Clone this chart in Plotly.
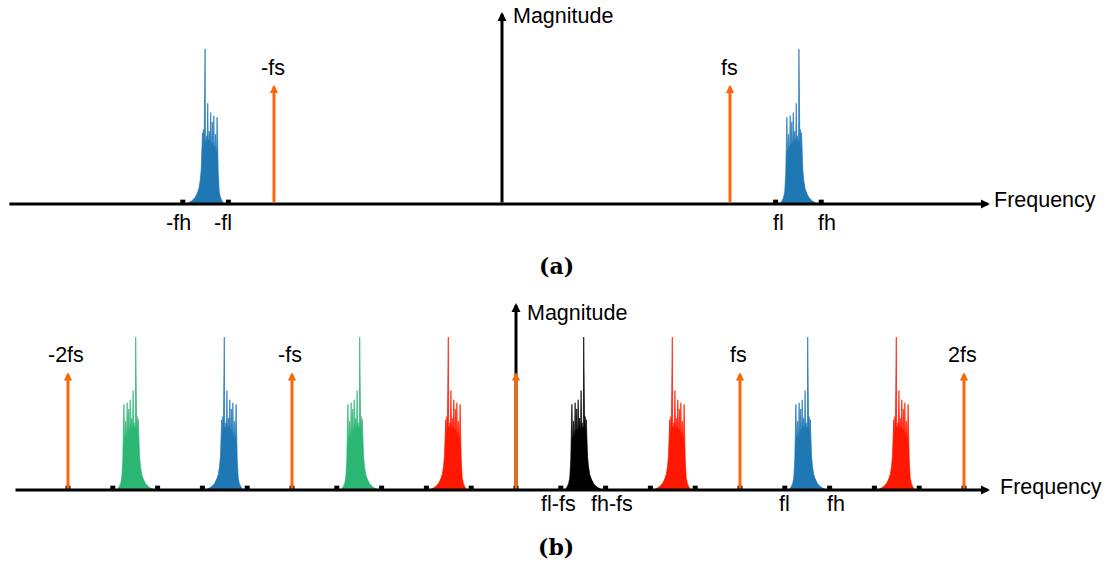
import plotly.graph_objects as go

# ---------------- data ----------------
FS = 1.0            # sampling frequency (normalised)
FL, FH = 1.2, 1.4   # band edges (in units of fs)
IMPULSE_H = 0.77    # height of the sampling impulses (band peak = 1)

# band-pass spectrum profile: fraction across [fl, fh] and relative magnitude
prof_t = [0.072, 0.122, 0.173, 0.201, 0.223, 0.237, 0.248, 0.259, 0.273, 0.284,
          0.295, 0.309, 0.320, 0.331, 0.345, 0.356, 0.367, 0.378, 0.388, 0.399,
          0.410, 0.421, 0.432, 0.442, 0.453, 0.464, 0.475, 0.489, 0.504, 0.511,
          0.522, 0.532, 0.543, 0.554, 0.568, 0.579, 0.597, 0.619, 0.647, 0.683,
          0.734, 0.806, 0.878, 0.921]
prof_h = [0, 0.01, 0.04, 0.08, 0.2, 0.33, 0.56, 0.36, 0.34, 0.45,
          0.36, 0.38, 0.57, 0.38, 0.40, 0.53, 0.39, 0.40, 0.59, 0.40,
          0.42, 0.47, 0.40, 0.42, 0.65, 0.42, 0.44, 0.40, 0.42, 1.0,
          0.42, 0.40, 0.48, 0.36, 0.46, 0.30, 0.22, 0.15, 0.10, 0.07,
          0.04, 0.02, 0.01, 0]

# panel (a)
a_band_shift = [0, 0]
a_band_side = [-1, 1]
a_impulses = [-1, 1]
a_imp_labels = ["-fs", "fs"]
a_ticks = [-FH, -FL, FL, FH]
a_tick_labels = ["-fh", "-fl", "fl", "fh"]

# panel (b)
b_band_shift = [-3, 0, -2, 1, -1, 2, 0, 3]
b_band_side = [1, -1, 1, -1, 1, -1, 1, -1]
b_band_color = ["green", "blue", "green", "red", "black", "red", "blue", "red"]
b_impulses = [-2, -1, 0, 1, 2]
b_imp_labels = ["-2fs", "-fs", "", "fs", "2fs"]
b_ticks = [-2, -1.8, -1.6, -1.4, -1.2, -1, -0.8, -0.6, -0.4, -0.2, 0,
           0.2, 0.4, 0.6, 0.8, 1, 1.2, 1.4, 1.6, 1.8, 2]
b_label_pos = [FL - FS, FH - FS, FL, FH]
b_labels = ["fl-fs", "fh-fs", "fl", "fh"]

# ---------------- style ----------------
W, H = 1108, 563
COL = {"blue": "#1f77b4", "green": "#2cb673", "red": "#ff1800",
       "black": "#000000"}
ORANGE = "#ff6608"
FONT = "Liberation Sans, Arial, sans-serif"
FSZ = 21.5

# pixel geometry of the two panels (origin px, px per unit)
A_X0, A_XS, A_Y0, A_YS = 502, 228, 204, 155
B_X0, B_XS, B_Y0, B_YS = 516, 224, 490, 153
A_XLIM = (-2.167, 2.140)
A_YTOP = 1.239
B_XLIM = (-2.241, 2.116)
B_YTOP = 1.222


def band(shift, side):
    xs = [shift * FS + side * (FL + t * (FH - FL)) for t in prof_t]
    return xs, list(prof_h)


fig = go.Figure()

# panel (a) bands
for s, sd in zip(a_band_shift, a_band_side):
    xs, ys = band(s, sd)
    fig.add_trace(go.Scatter(x=xs, y=ys, mode="lines", fill="tozeroy",
                             line=dict(color=COL["blue"], width=0.7),
                             fillcolor=COL["blue"], xaxis="x", yaxis="y",
                             hoverinfo="skip", showlegend=False))
fig.add_trace(go.Scatter(x=a_ticks, y=[0.012] * len(a_ticks), mode="markers",
                         marker=dict(symbol="square", size=5, color="black"),
                         xaxis="x", yaxis="y", hoverinfo="skip",
                         showlegend=False))

# panel (b) bands
for s, sd, c in zip(b_band_shift, b_band_side, b_band_color):
    xs, ys = band(s, sd)
    fig.add_trace(go.Scatter(x=xs, y=ys, mode="lines", fill="tozeroy",
                             line=dict(color=COL[c], width=0.7),
                             fillcolor=COL[c], xaxis="x2", yaxis="y2",
                             hoverinfo="skip", showlegend=False))
fig.add_trace(go.Scatter(x=b_ticks, y=[0.012] * len(b_ticks), mode="markers",
                         marker=dict(symbol="square", size=5, color="black"),
                         xaxis="x2", yaxis="y2", hoverinfo="skip",
                         showlegend=False))

ann = []


def arrow(xr, yr, x, y, ax, ay, color, width, size):
    ann.append(dict(xref=xr, yref=yr, axref=xr, ayref=yr, x=x, y=y, ax=ax,
                    ay=ay, text="", showarrow=True, arrowhead=2,
                    arrowsize=size, arrowwidth=width, arrowcolor=color,
                    standoff=0, startstandoff=0))


def label(xr, yr, x, y, text, xanchor="center", xshift=0, size=FSZ):
    ann.append(dict(xref=xr, yref=yr, x=x, y=y, text=text, showarrow=False,
                    xanchor=xanchor, yanchor="middle", xshift=xshift,
                    font=dict(family=FONT, size=size, color="black")))


# axes of (a)
arrow("x", "y", A_XLIM[1], 0, A_XLIM[0], 0, "black", 3, 0.6)
arrow("x", "y", 0, A_YTOP, 0, 0, "black", 3, 0.6)
# impulses of (a)
for f, t in zip(a_impulses, a_imp_labels):
    arrow("x", "y", f * FS, IMPULSE_H, f * FS, 0, ORANGE, 3, 0.55)
    label("x", "y", f * FS, IMPULSE_H + 0.11, t, xshift=-1)
# axes of (b)
arrow("x2", "y2", B_XLIM[1], 0, B_XLIM[0], 0, "black", 3, 0.6)
arrow("x2", "y2", 0, B_YTOP, 0, 0, "black", 3, 0.6)
for f, t in zip(b_impulses, b_imp_labels):
    arrow("x2", "y2", f * FS, IMPULSE_H, f * FS, 0, ORANGE, 3, 0.55)
    if t:
        label("x2", "y2", f * FS, IMPULSE_H + 0.11, t, xshift=-2)

# axis titles
label("x", "y", 0.040, 1.213, "Magnitude", xanchor="left")
label("x", "y", 2.150, 0.026, "Frequency", xanchor="left")
label("x2", "y2", 0.042, 1.157, "Magnitude", xanchor="left")
label("x2", "y2", 2.150, 0.02, "Frequency", xanchor="left")

# tick labels
a_shifts = [-4, -5, 3, 6]
for p, t, sh in zip(a_ticks, a_tick_labels, a_shifts):
    label("x", "y", p, -0.123, t, xshift=sh)
b_shifts = [-2, 6, 0, 6]
for p, t, sh in zip(b_label_pos, b_labels, b_shifts):
    label("x2", "y2", p, -0.09, t, xshift=sh)

# captions
for t, yy in (("(a)", 1 - 266 / H), ("(b)", 1 - 547 / H)):
    ann.append(dict(xref="paper", yref="paper", x=556 / W, y=yy,
                    text="<b>%s</b>" % t, showarrow=False, xanchor="center",
                    yanchor="middle",
                    font=dict(family="DejaVu Serif, serif", size=22,
                              color="black")))

noax = dict(visible=False, showgrid=False, zeroline=False, fixedrange=True)
fig.update_layout(
    width=W, height=H, margin=dict(l=0, r=0, t=0, b=0, pad=0),
    paper_bgcolor="white", plot_bgcolor="white", showlegend=False,
    xaxis=dict(noax, domain=[0, 1], range=[-A_X0 / A_XS, (W - A_X0) / A_XS]),
    yaxis=dict(noax, domain=[0, 1], range=[(A_Y0 - H) / A_YS, A_Y0 / A_YS]),
    xaxis2=dict(noax, domain=[0, 1], overlaying="x", anchor="y2",
                range=[-B_X0 / B_XS, (W - B_X0) / B_XS]),
    yaxis2=dict(noax, domain=[0, 1], overlaying="y", anchor="x2",
                range=[(B_Y0 - H) / B_YS, B_Y0 / B_YS]),
    annotations=ann,
)

fig.write_html("out.html")
